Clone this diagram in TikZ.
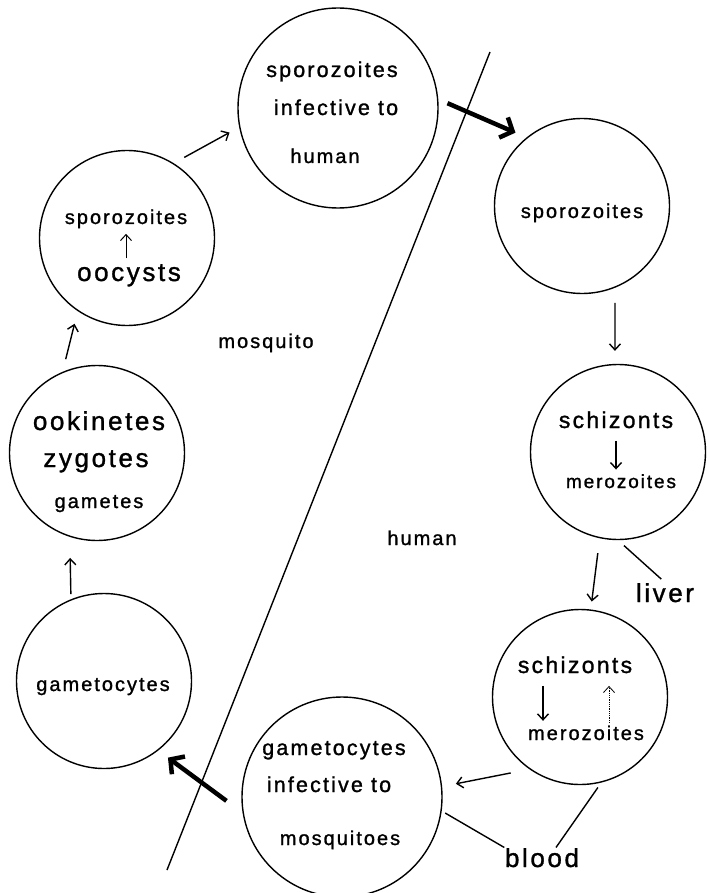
\documentclass[tikz,border=0pt]{standalone}
\usepackage{fontspec}
\setmainfont{Liberation Sans}
\newfontfamily\cyclefont[LetterSpace=10,FakeBold=1.2]{Liberation Sans}
\usetikzlibrary{arrows.meta}
\usetikzlibrary{positioning}

\begin{document}
\begin{tikzpicture}[x=1pt, y=-1pt, line width=1.4pt,
    cell/.style={circle, draw, inner sep=0pt, minimum size=175pt},
    bigcell/.style={cell, minimum size=200pt},
    txts/.style={anchor=base, inner sep=0pt, font=\cyclefont\fontsize{20}{24}\selectfont},
    txtm/.style={txts, font=\cyclefont\fontsize{21.5}{26}\selectfont},
    txtl/.style={txts, font=\cyclefont\fontsize{26}{31}\selectfont},
    arr/.style={-{Straight Barb[length=6pt,width=11pt]}},
    fatarr/.style={line width=4.5pt, -{Straight Barb[length=10pt,width=22pt]}}]
  \useasboundingbox (0,0) rectangle (706,893);

  % the stages
  \node (topc)   at (338,108) [bigcell] {};
  \node (oocc)   at (127,238) [cell] {};
  \node (ookc)   at (97,453)  [cell] {};
  \node (gamc)   at (104,681) [cell] {};
  \node (rspz)   at (582,206) [cell] {};
  \node (liverc) at (618,452) [cell] {};
  \node (bloodc) at (580,697) [cell] {};
  \node (botc)   at (342,797) [bigcell] {};

  % texts in the circles
  \node (spz1) at (332,77)  [txtm] {sporozoites};
  \node (inf1) at (336,115) [txtm] {infective to};
  \node (hum1) at (325,163) [txts] {human};

  \node (spz2)    at (126,224) [txts] {sporozoites};
  \node (oocysts) at (129,281) [txtl] {oocysts};

  \node (ook)  at (99,430) [txtl] {ookinetes};
  \node (zyg)  at (96,467) [txtl] {zygotes};
  \node (game) at (99,508) [txts] {gametes};

  \node (gam1) at (103,691) [txts] {gametocytes};
  \node (spz3) at (582,218) [txts] {sporozoites};

  \node (schz1) at (616,428) [txtl, font=\cyclefont\fontsize{23}{28}\selectfont] {schizonts};
  \node (mer1)  at (621,488) [txts, font=\cyclefont\fontsize{19}{23}\selectfont] {merozoites};

  \node (schz2) at (575,673) [txtl, font=\cyclefont\fontsize{23}{28}\selectfont] {schizonts};
  \node (mer2)  at (586,740) [txts] {merozoites};

  \node (gam2) at (334,755) [txtm] {gametocytes};
  \node (inf2) at (329,792) [txtm] {infective to};
  \node (mosq) at (340,845) [txts] {mosquitoes};

  % hosts and places
  \node (mosquito) at (266,348) [txts] {mosquito};
  \node (human)    at (422,545) [txts] {human};
  \node (liver)    at (665,602) [txtl] {liver};
  \node (blood)    at (542,867) [txtl] {blood};

  \coordinate (divtop) at (490,52);
  \coordinate (divbot) at (167,870);
  \draw (divtop) -- (divbot);

  % the cycle
  \draw[arr, shorten <=12pt, shorten >=11pt] (oocc.58) -- (topc.191.5);
  \draw[fatarr, shorten <=10pt, shorten >=12pt] (topc.5.9) -- (rspz.129.5);
  \draw[arr, shorten <=15pt, shorten >=13pt] (rspz.-68) -- (liverc.92);
  \draw[arr, shorten <=15pt, shorten >=8pt] (liverc.-102.8) -- (bloodc.83.3);
  \draw[arr, shorten <=19pt, shorten >=14pt] (bloodc.235.3) -- (botc.6.5);
  \draw[fatarr, shorten <=20pt, shorten >=12pt] (botc.189.8) -- (gamc.-52.7);
  \draw[arr, shorten <=5pt, shorten >=21pt] (gamc.112.7) -- (ookc.-108);
  \draw[arr, shorten <=13pt, shorten >=13pt] (ookc.113.1) -- (oocc.-124.1);

  % inside the circles
  \draw[arr, line width=1pt, shorten <=5pt, shorten >=5pt] (spz2.south |- oocysts.north) -- (spz2.south);
  \draw[arr, shorten <=12pt, shorten >=4pt] (schz1.south) -- (schz1.south |- mer1.north);
  \draw[arr, shorten <=12pt, shorten >=4pt] ([xshift=-32pt]schz2.south) -- ([xshift=-32pt]schz2.south |- mer2.north);
  \draw[arr, line width=0.8pt, densely dotted, shorten <=2pt, shorten >=12pt] ([xshift=34pt]schz2.south |- mer2.north) -- ([xshift=34pt]schz2.south);

  % label lines
  \draw[shorten <=8pt, shorten >=5pt] (liverc.-90.6) -- (liver.north);
  \draw[shorten <=4pt] (botc.-8.8) -- (blood.north west);
  \draw[shorten <=6pt] (bloodc.-76.3) -- ([xshift=14pt]blood.north);
\end{tikzpicture}
\end{document}
